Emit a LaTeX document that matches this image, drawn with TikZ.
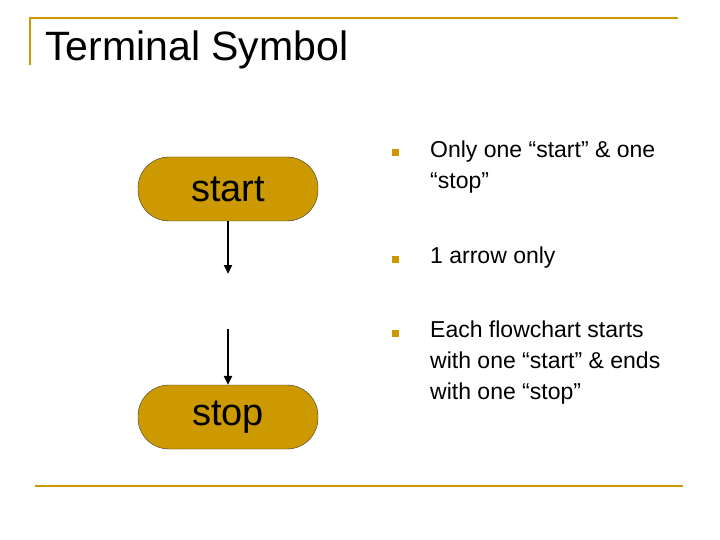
\documentclass[tikz,border=0pt]{standalone}
\usepackage{fontspec}
\setmainfont{Liberation Sans}
\usetikzlibrary{arrows.meta}
\definecolor{gold}{HTML}{CC9900}
\begin{document}
\begin{tikzpicture}[x=1pt,y=-1pt,>={Triangle[length=9pt,width=8pt]}]
  \tikzstyle{terminal}=[draw=black!80,fill=gold,rounded corners=31pt,minimum width=180pt,minimum height=64pt,font=\fontsize{38}{40}\selectfont]
  \tikzstyle{bullet}=[fill=gold,minimum size=7pt,inner sep=0pt]
  \tikzstyle{item}=[anchor=north west,align=left,inner sep=0pt,font=\fontsize{23}{31}\selectfont]
  \useasboundingbox (0,0) rectangle (720,540);
  % frame lines
  \draw[gold,line width=2pt] (30,65) -- (30,18) -- (678,18);
  \draw[gold,line width=2pt] (35,486) -- (683,486);
  \node[anchor=west,inner sep=0pt,font=\fontsize{41}{44}\selectfont] (title) at (45,50) {Terminal Symbol};
  % terminals
  \node[terminal] (start) at (228,189) {start};
  \node[terminal] (stop) at (228,417) {stop};
  \coordinate (a1) at (228,274);
  \coordinate (a2) at (228,329);
  \draw[->,line width=2.5pt] (start.south) -- (a1);
  \draw[<-,line width=2.5pt] (stop.north) -- (a2);
  % bullets
  \node[bullet] (b1) at (395,153) {};
  \node[bullet] (b2) at (395,259) {};
  \node[bullet] (b3) at (395,333) {};
  \node[item] (t1) at (430,141) {Only one “start” \& one\\“stop”};
  \node[item] (t2) at (430,247) {1 arrow only};
  \node[item] (t3) at (430,321) {Each flowchart starts\\with one “start” \& ends\\with one “stop”};
\end{tikzpicture}
\end{document}
